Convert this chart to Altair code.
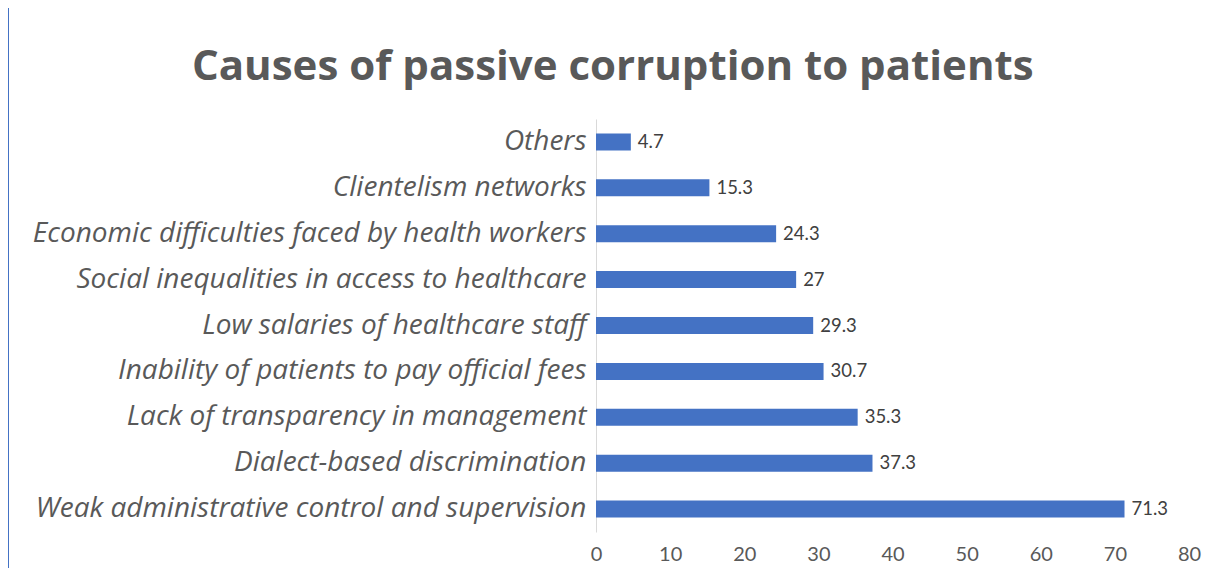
import altair as alt
import pandas as pd

causes = [
    "Others",
    "Clientelism networks",
    "Economic difficulties faced by health workers",
    "Social inequalities in access to healthcare",
    "Low salaries of healthcare staff",
    "Inability of patients to pay official fees",
    "Lack of transparency in management",
    "Dialect-based discrimination",
    "Weak administrative control and supervision",
]
percent = [4.7, 15.3, 24.3, 27, 29.3, 30.7, 35.3, 37.3, 71.3]
x_ticks = [0, 10, 20, 30, 40, 50, 60, 70, 80]
title_text = "Causes of passive corruption to patients"

df = pd.DataFrame({"cause": causes, "pct": percent})

base = alt.Chart(df).encode(
    y=alt.Y(
        "cause:N",
        sort=causes,
        scale=alt.Scale(paddingInner=0, paddingOuter=0),
        axis=alt.Axis(
            title=None,
            labelFont="Open Sans",
            labelFontStyle="italic",
            labelFontSize=28,
            labelColor="#595959",
            ticks=False,
            domainColor="#d9d9d9",
            domainWidth=1,
            labelPadding=10,
            labelLimit=800,
            minExtent=588,
            maxExtent=588,
            grid=False,
        ),
    ),
    x=alt.X(
        "pct:Q",
        scale=alt.Scale(domain=[0, 80], nice=False),
        axis=alt.Axis(
            title=None,
            values=x_ticks,
            grid=False,
            domain=False,
            ticks=False,
            labelFlush=False,
            labelFont="Lato",
            labelFontSize=20,
            labelColor="#595959",
            labelPadding=12,
        ),
    ),
)

bars = base.mark_bar(color="#4472C4", size=17)
labels = base.mark_text(
    align="left", baseline="middle", dx=7, font="Lato", fontSize=18.5, color="#404040"
).encode(text=alt.Text("pct:Q", format="~g"))

edge = alt.Chart(alt.Data(values=[{"a": 1}])).mark_rule(
    color="#4472C4", strokeWidth=2
).encode(x=alt.value(-588), y=alt.value(-111), y2=alt.value(460))

chart = (
    alt.layer(edge, bars, labels)
    .properties(
        width=593,
        height=413,
        title=alt.TitleParams(
            title_text,
            font="Open Sans",
            fontSize=42,
            fontWeight="bold",
            color="#595959",
            anchor="middle",
            frame="bounds",
            baseline="alphabetic",
            offset=-115,
            dx=9,
        ),
        autosize=alt.AutoSizeParams(type="none"),
        padding={"left": 588, "top": 111, "right": 26, "bottom": 36},
    )
    .configure(background="white")
    .configure_view(strokeWidth=0, stroke=None)
)

chart.save("out.html", embed_options={"renderer": "svg", "actions": False})
